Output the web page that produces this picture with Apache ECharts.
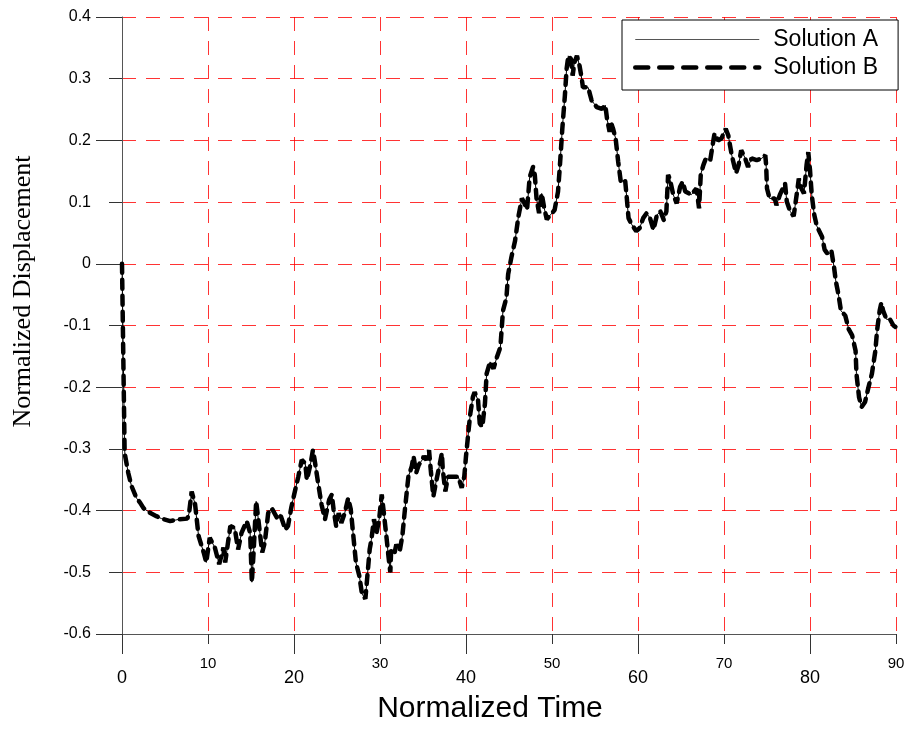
<!DOCTYPE html>
<html>
<head>
<meta charset="utf-8">
<title>Normalized Displacement</title>
<script src="https://cdn.jsdelivr.net/npm/echarts@6/dist/echarts.min.js"></script>
<style>
  html, body { margin: 0; padding: 0; background: #fff; }
  #main { width: 908px; height: 729px; }
</style>
</head>
<body>
<div id="main"></div>
<script>
'use strict';

/* ===== data ===== */
var timeValues = [
  0, 0.15, 0.3, 0.35, 0.73, 1.1, 1.7, 2.1, 2.5, 2.9, 3.3, 4.0, 4.6, 5.6, 6.7, 7.6, 7.8, 8.1, 8.5, 8.9,
  9.5, 9.8, 10.2, 10.8, 11.3, 11.8, 12.0, 12.6, 13.1, 13.5, 13.9, 14.5, 14.9, 15.1, 15.3, 15.6, 15.9, 16.3, 16.6, 17.0,
  17.4, 18.0, 18.4, 19.0, 19.3, 19.7, 20.1, 20.5, 20.9, 21.3, 21.5, 21.9, 22.2, 22.4, 22.8, 23.2, 23.6, 24.1, 24.4, 24.6,
  24.9, 25.2, 25.5, 25.9, 26.3, 26.6, 26.9, 27.2, 27.6, 27.9, 28.3, 28.5, 28.8, 29.0, 29.3, 29.6, 29.9, 30.2, 30.4, 30.7,
  31.0, 31.2, 31.3, 31.7, 31.9, 32.3, 32.6, 32.9, 33.3, 33.7, 33.9, 34.2, 34.5, 34.9, 35.1, 35.4, 35.7, 35.9, 36.2, 36.5,
  36.9, 37.2, 37.3, 37.6, 37.9, 38.5, 39.1, 39.5, 39.8, 40.0, 40.3, 40.5, 40.8, 41.0, 41.4, 41.6, 41.9, 42.2, 42.4, 42.8,
  43.2, 43.6, 44.0, 44.3, 44.7, 44.9, 45.3, 45.7, 46.1, 46.5, 46.7, 47.1, 47.4, 47.8, 48.0, 48.2, 48.5, 48.8, 49.1, 49.4,
  49.8, 50.3, 50.7, 50.9, 51.2, 51.5, 51.7, 51.9, 52.2, 52.4, 52.6, 52.9, 53.2, 53.4, 53.6, 54.2, 54.6, 55.2, 55.8, 56.2,
  56.4, 56.7, 56.9, 57.1, 57.4, 57.7, 58.0, 58.5, 58.7, 58.9, 59.3, 59.8, 60.2, 60.6, 61.0, 61.4, 61.8, 62.2, 62.6, 63.0,
  63.3, 63.5, 63.7, 64.1, 64.5, 64.9, 65.2, 65.5, 66.2, 66.8, 67.1, 67.3, 67.6, 67.9, 68.4, 68.8, 68.9, 69.3, 69.7, 70.2,
  70.5, 70.9, 71.4, 71.7, 72.0, 72.4, 72.8, 73.2, 73.8, 74.4, 74.8, 74.9, 75.0, 75.3, 75.9, 76.1, 76.5, 77.1, 77.3, 77.7,
  78.1, 78.5, 78.7, 79.0, 79.3, 79.6, 79.8, 80.0, 80.2, 80.5, 80.8, 81.4, 81.7, 82.1, 82.5, 82.8, 83.0, 83.3, 83.6, 84.1,
  84.5, 84.9, 85.3, 85.4, 85.7, 86.0, 86.4, 86.8, 87.2, 87.6, 87.8, 88.1, 88.3, 88.5, 88.9, 89.3, 89.7, 90.0
];

var solutionA = [
  0, -0.15, -0.3, -0.31, -0.339, -0.36, -0.38, -0.387, -0.396, -0.4, -0.404, -0.409, -0.413, -0.417, -0.414, -0.413, -0.404, -0.369, -0.39, -0.441,
  -0.468, -0.484, -0.444, -0.46, -0.487, -0.46, -0.484, -0.425, -0.428, -0.463, -0.436, -0.417, -0.436, -0.516, -0.468, -0.385, -0.42, -0.468, -0.452, -0.404,
  -0.396, -0.411, -0.406, -0.431, -0.425, -0.394, -0.369, -0.345, -0.318, -0.323, -0.35, -0.326, -0.302, -0.318, -0.355, -0.39, -0.414, -0.382, -0.374, -0.398,
  -0.425, -0.404, -0.42, -0.404, -0.38, -0.398, -0.441, -0.484, -0.506, -0.535, -0.543, -0.511, -0.463, -0.447, -0.414, -0.436, -0.414, -0.374, -0.398, -0.436,
  -0.476, -0.5, -0.463, -0.468, -0.455, -0.465, -0.441, -0.398, -0.345, -0.328, -0.312, -0.339, -0.326, -0.318, -0.312, -0.318, -0.302, -0.334, -0.377, -0.355,
  -0.328, -0.307, -0.334, -0.369, -0.345, -0.345, -0.345, -0.363, -0.345, -0.312, -0.27, -0.243, -0.216, -0.208, -0.221, -0.259, -0.264, -0.227, -0.178, -0.159,
  -0.17, -0.151, -0.135, -0.076, -0.055, -0.017, 0.012, 0.037, 0.077, 0.106, 0.101, 0.088, 0.14, 0.157, 0.144, 0.106, 0.082, 0.114, 0.09, 0.072,
  0.079, 0.087, 0.117, 0.155, 0.219, 0.273, 0.316, 0.337, 0.332, 0.305, 0.326, 0.337, 0.321, 0.305, 0.286, 0.286, 0.265, 0.254, 0.251, 0.257,
  0.235, 0.214, 0.227, 0.219, 0.203, 0.165, 0.133, 0.136, 0.106, 0.074, 0.063, 0.053, 0.058, 0.074, 0.082, 0.074, 0.055, 0.079, 0.085, 0.071,
  0.085, 0.144, 0.138, 0.112, 0.098, 0.125, 0.133, 0.117, 0.112, 0.122, 0.09, 0.145, 0.16, 0.171, 0.168, 0.203, 0.211, 0.2, 0.203, 0.219,
  0.208, 0.176, 0.147, 0.16, 0.184, 0.173, 0.157, 0.171, 0.168, 0.171, 0.176, 0.16, 0.122, 0.106, 0.106, 0.095, 0.112, 0.13, 0.101, 0.085,
  0.077, 0.117, 0.138, 0.122, 0.114, 0.16, 0.181, 0.152, 0.112, 0.079, 0.061, 0.044, 0.023, 0.015, 0.02, -0.006, -0.028, -0.049, -0.076, -0.084,
  -0.106, -0.116, -0.141, -0.178, -0.216, -0.232, -0.224, -0.2, -0.178, -0.141, -0.108, -0.076, -0.063, -0.076, -0.09, -0.09, -0.1, -0.103
];

// the dashed curve sits right on top of the thin one, same readings
var solutionB = solutionA.slice();

var xMinorTicks = [10, 30, 50, 70, 90];
var xMajorTicks = [0, 20, 40, 60, 80];
var yMinorTicks = [-0.5, -0.3, -0.1, 0.1, 0.3];
var yMajorTicks = [-0.6, -0.4, -0.2, 0, 0.2, 0.4];

function pairs(xs, ys) {
  return xs.map(function (x, i) { return [x, ys[i]]; });
}

/* ===== chart ===== */
var gridStyle = { color: 'rgba(255,0,0,0.8)', width: 1, type: [14, 10] };
var font = 'Liberation Sans';
var thinLine = { color: '#000', width: 1 };
var dashLine = { color: '#000', width: 4.5, type: [9, 7], cap: 'round' };

var myChart = echarts.init(document.getElementById('main'), null, { renderer: 'canvas' });

var option = {
  animation: false,
  backgroundColor: '#fff',
  grid: { left: 122, right: 12, top: 17, bottom: 91, containLabel: false },
  legend: {
    orient: 'vertical',
    left: 622,
    top: 20,
    padding: [8, 20, 11, 11],
    itemGap: 5,
    itemWidth: 124,
    itemHeight: 14,
    borderColor: '#000',
    borderWidth: 1,
    backgroundColor: '#fff',
    itemStyle: { color: 'transparent', borderWidth: 0, opacity: 0 },
    textStyle: { fontFamily: font, fontSize: 23, color: '#000', padding: [0, 0, 0, 9] },
    data: [
      { name: 'Solution A', lineStyle: { color: '#555', width: 1 } },
      { name: 'Solution B', lineStyle: { color: '#000', width: 4.5, type: [13, 11], cap: 'round' } }
    ]
  },
  xAxis: [
    {
      type: 'value', position: 'bottom', min: 0, max: 90, interval: 10,
      axisLine: { onZero: false, lineStyle: { color: '#555', width: 1 } },
      axisTick: { customValues: xMinorTicks, length: 10, lineStyle: { color: '#333' } },
      axisLabel: { customValues: xMinorTicks, fontFamily: font, fontSize: 15, color: '#000', margin: 22 },
      splitLine: { show: true, lineStyle: gridStyle }
    },
    {
      type: 'value', position: 'bottom', min: 0, max: 90, interval: 10,
      name: 'Normalized Time', nameLocation: 'middle', nameGap: 60,
      nameTextStyle: { fontFamily: font, fontSize: 30, color: '#000', padding: [0, 38, 0, 0] },
      axisLine: { onZero: false, lineStyle: { color: '#555', width: 1 } },
      axisTick: { customValues: xMajorTicks, length: 20, lineStyle: { color: '#333' } },
      axisLabel: { customValues: xMajorTicks, fontFamily: font, fontSize: 18, color: '#000', margin: 35 },
      splitLine: { show: true, lineStyle: gridStyle }
    }
  ],
  yAxis: [
    {
      type: 'value', position: 'left', min: -0.6, max: 0.4, interval: 0.1,
      name: 'Normalized Displacement', nameLocation: 'middle', nameGap: 86,
      nameTextStyle: { fontFamily: 'Liberation Serif', fontSize: 26, color: '#000', padding: [0, 0, 0, 68] },
      axisLine: { onZero: false, lineStyle: { color: '#555', width: 1 } },
      axisTick: { customValues: yMinorTicks, length: 13, lineStyle: { color: '#333' } },
      axisLabel: { fontFamily: font, fontSize: 16, color: '#000', margin: 31 },
      splitLine: { show: true, lineStyle: gridStyle }
    },
    {
      type: 'value', position: 'left', min: -0.6, max: 0.4, interval: 0.2,
      axisLine: { show: false, onZero: false },
      axisTick: { customValues: yMajorTicks, length: 26, lineStyle: { color: '#333' } },
      axisLabel: { show: false },
      splitLine: { show: true, lineStyle: gridStyle }
    }
  ],
  series: [
    {
      name: 'Solution A',
      type: 'line',
      symbol: 'none',
      color: '#000',
      lineStyle: thinLine,
      data: pairs(timeValues, solutionA)
    },
    {
      name: 'Solution B',
      type: 'line',
      symbol: 'none',
      color: '#000',
      lineStyle: dashLine,
      data: pairs(timeValues, solutionB)
    }
  ]
};

myChart.setOption(option);
</script>
</body>
</html>
